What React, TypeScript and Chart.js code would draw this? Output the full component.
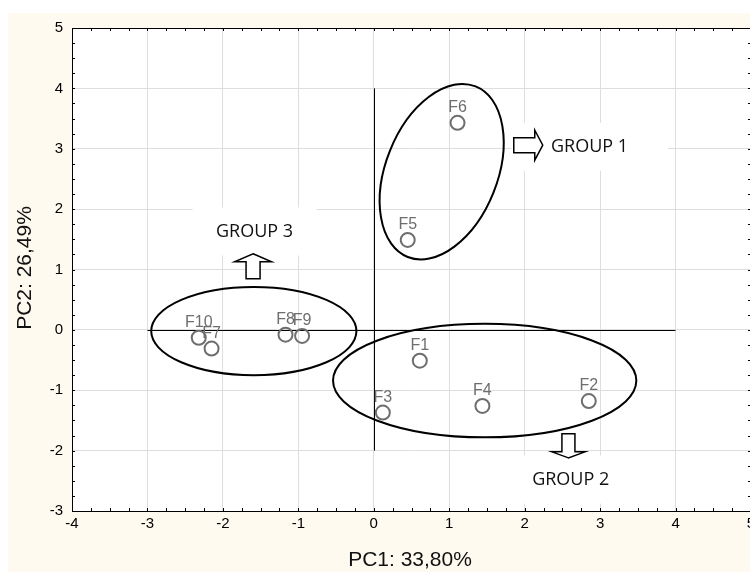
import React, { useEffect, useRef } from "react";
import { Chart, registerables } from "chart.js";

Chart.register(...registerables);

// ---- data ----
const pointLabels = ["F1", "F2", "F3", "F4", "F5", "F6", "F7", "F8", "F9", "F10"];
const pc1Values = [0.61, 2.85, 0.12, 1.44, 0.45, 1.11, -2.15, -1.17, -0.95, -2.32];
const pc2Values = [-0.51, -1.18, -1.37, -1.26, 1.49, 3.43, -0.31, -0.08, -0.1, -0.13];

const xRange = [-4, 5];
const yRange = [-3, 5];

const xTitle = "PC1: 33,80%";
const yTitle = "PC2: 26,49%";

// group annotations
const groupNames = ["GROUP 1", "GROUP 2", "GROUP 3"];
const groupTextX = [2.86, 2.61, -1.58];
const groupTextY = [3.03, -2.48, 1.63];
const groupBoxHalfW = [78, 65, 62];
// ellipses: center (data), semi-axes (data units), rotation (deg)
const ellipseCX = [0.9, 1.47, -1.59];
const ellipseCY = [2.62, -0.84, -0.02];
const ellipseRX = [0.74, 2.01, 1.36];
const ellipseRY = [1.52, 0.94, 0.73];
const ellipseRot = [21.7, 0, 0];
// arrows: tip (data), direction
const arrowTipX = [2.24, 2.58, -1.6];
const arrowTipY = [3.06, -2.12, 1.26];
const arrowDir = [90, 180, 0];
const arrowLen = [29, 24, 25];
const arrowHeadLen = [8, 6, 8];
const arrowHeadW = [30, 33, 37];
const arrowShaftW = [15, 13, 14];

// reference lines through origin
const vLine = { x: 0, y1: -2, y2: 4 };
const hLine = { y: 0, x1: -3, x2: 4 };

const POINT_COLOR = "#6e6e6e";

const decorPlugin = {
  id: "decor",
  beforeDraw(chart: any) {
    const { ctx, chartArea } = chart;
    ctx.save();
    ctx.fillStyle = "#ffffff";
    ctx.fillRect(0, 0, chart.width, chart.height);
    ctx.fillStyle = "#fffaf0";
    ctx.fillRect(8, 13, chart.width - 8, chart.height - 13);
    ctx.fillStyle = "#ffffff";
    ctx.fillRect(chartArea.left, chartArea.top, chartArea.right - chartArea.left, chartArea.bottom - chartArea.top);
    ctx.restore();
  },
  beforeDatasetsDraw(chart: any) {
    const { ctx, chartArea } = chart;
    const xs = chart.scales.x;
    const ys = chart.scales.y;
    ctx.save();
    // white boxes behind group labels
    for (let i = 0; i < groupNames.length; i++) {
      const cx = xs.getPixelForValue(groupTextX[i]);
      const cy = ys.getPixelForValue(groupTextY[i]);
      ctx.fillStyle = "#ffffff";
      ctx.fillRect(cx - groupBoxHalfW[i], cy - 24, groupBoxHalfW[i] * 2, 48);
    }
    // minor/major ticks inward on all sides
    ctx.strokeStyle = "#000000";
    ctx.lineWidth = 1;
    ctx.beginPath();
    for (let v = xRange[0]; v <= xRange[1] + 1e-9; v += 0.25) {
      const px = Math.round(xs.getPixelForValue(v)) + 0.5;
      ctx.moveTo(px, chartArea.bottom);
      ctx.lineTo(px, chartArea.bottom - 3);
      ctx.moveTo(px, chartArea.top);
      ctx.lineTo(px, chartArea.top + 3);
    }
    for (let v = yRange[0]; v <= yRange[1] + 1e-9; v += 0.25) {
      const py = Math.round(ys.getPixelForValue(v)) + 0.5;
      ctx.moveTo(chartArea.left, py);
      ctx.lineTo(chartArea.left + 3, py);
      ctx.moveTo(chartArea.right, py);
      ctx.lineTo(chartArea.right - 3, py);
    }
    ctx.stroke();
    // frame
    ctx.strokeStyle = "#000000";
    ctx.strokeRect(Math.round(chartArea.left) + 0.5, Math.round(chartArea.top) + 0.5,
      Math.round(chartArea.right - chartArea.left), Math.round(chartArea.bottom - chartArea.top));
    // origin lines
    ctx.beginPath();
    const vx = Math.round(xs.getPixelForValue(vLine.x)) + 0.5;
    ctx.moveTo(vx, ys.getPixelForValue(vLine.y1));
    ctx.lineTo(vx, ys.getPixelForValue(vLine.y2));
    const hy = Math.round(ys.getPixelForValue(hLine.y)) + 0.5;
    ctx.moveTo(xs.getPixelForValue(hLine.x1), hy);
    ctx.lineTo(xs.getPixelForValue(hLine.x2), hy);
    ctx.stroke();
    ctx.restore();
  },
  afterDatasetsDraw(chart: any) {
    const { ctx } = chart;
    const xs = chart.scales.x;
    const ys = chart.scales.y;
    const pxPerX = Math.abs(xs.getPixelForValue(1) - xs.getPixelForValue(0));
    const pxPerY = Math.abs(ys.getPixelForValue(1) - ys.getPixelForValue(0));
    ctx.save();
    // ellipses
    ctx.strokeStyle = "#000000";
    ctx.lineWidth = 2;
    for (let i = 0; i < ellipseCX.length; i++) {
      ctx.beginPath();
      ctx.ellipse(
        xs.getPixelForValue(ellipseCX[i]),
        ys.getPixelForValue(ellipseCY[i]),
        ellipseRX[i] * pxPerX,
        ellipseRY[i] * pxPerY,
        (ellipseRot[i] * Math.PI) / 180,
        0,
        Math.PI * 2
      );
      ctx.stroke();
    }
    // arrows
    ctx.lineWidth = 1.5;
    for (let i = 0; i < arrowTipX.length; i++) {
      const tx = xs.getPixelForValue(arrowTipX[i]);
      const ty = ys.getPixelForValue(arrowTipY[i]);
      const L = arrowLen[i], hl = arrowHeadLen[i], hw = arrowHeadW[i] / 2, sw = arrowShaftW[i] / 2;
      const pts = [[0, 0], [hw, hl], [sw, hl], [sw, L], [-sw, L], [-sw, hl], [-hw, hl]];
      const a = (arrowDir[i] * Math.PI) / 180;
      const c = Math.cos(a), s = Math.sin(a);
      ctx.beginPath();
      pts.forEach(([x, y], k) => {
        const rx = tx + x * c - y * s;
        const ry = ty + x * s + y * c;
        if (k === 0) ctx.moveTo(rx, ry);
        else ctx.lineTo(rx, ry);
      });
      ctx.closePath();
      ctx.fillStyle = "#ffffff";
      ctx.fill();
      ctx.strokeStyle = "#000000";
      ctx.stroke();
    }
    // group texts
    ctx.fillStyle = "#111111";
    ctx.font = "18px 'Open Sans'";
    ctx.textAlign = "center";
    ctx.textBaseline = "middle";
    for (let i = 0; i < groupNames.length; i++) {
      ctx.fillText(groupNames[i], xs.getPixelForValue(groupTextX[i]), ys.getPixelForValue(groupTextY[i]));
    }
    // point labels
    ctx.fillStyle = POINT_COLOR;
    ctx.font = "16px 'Liberation Sans', Arial";
    ctx.textBaseline = "alphabetic";
    for (let i = 0; i < pointLabels.length; i++) {
      ctx.fillText(pointLabels[i], xs.getPixelForValue(pc1Values[i]), ys.getPixelForValue(pc2Values[i]) - 11);
    }
    // axis titles
    ctx.fillStyle = "#111111";
    ctx.font = "21px 'Liberation Sans', Arial";
    ctx.textBaseline = "middle";
    ctx.fillText(xTitle, 410, 560);
    ctx.translate(25, 268);
    ctx.rotate(-Math.PI / 2);
    ctx.fillText(yTitle, 0, 0);
    ctx.restore();
  },
};

export default function App() {
  const ref = useRef<HTMLCanvasElement>(null);
  useEffect(() => {
    if (!ref.current) return;
    const chart = new Chart(ref.current, {
      type: "scatter",
      data: {
        datasets: [
          {
            data: pc1Values.map((x, i) => ({ x, y: pc2Values[i] })),
            pointStyle: "circle",
            pointRadius: 7,
            pointBorderWidth: 2,
            pointBorderColor: POINT_COLOR,
            pointBackgroundColor: "rgba(0,0,0,0)",
          },
        ],
      },
      options: {
        responsive: false,
        animation: false,
        devicePixelRatio: 1,
        layout: { padding: { top: 28, right: 9, left: 0, bottom: 0 } },
        plugins: { legend: { display: false }, tooltip: { enabled: false } },
        scales: {
          x: {
            type: "linear",
            min: xRange[0],
            max: xRange[1],
            ticks: { stepSize: 1, color: "#000", font: { size: 15, family: "'Liberation Sans', Arial" }, padding: 4 },
            grid: { color: "#dedede", drawTicks: false },
            border: { display: false },
            afterFit(scale: any) {
              scale.height = 61;
            },
          },
          y: {
            type: "linear",
            min: yRange[0],
            max: yRange[1],
            ticks: { stepSize: 1, color: "#000", font: { size: 15, family: "'Liberation Sans', Arial" }, padding: 9 },
            grid: { color: "#dedede", drawTicks: false },
            border: { display: false },
            afterFit(scale: any) {
              scale.width = 72;
            },
          },
        },
      },
      plugins: [decorPlugin],
    });
    return () => chart.destroy();
  }, []);
  return (
    <div style={{ position: "absolute", left: 0, top: 0, width: 750, height: 572, overflow: "hidden" }}>
      <canvas ref={ref} width={760} height={572} style={{ display: "block" }} />
    </div>
  );
}
